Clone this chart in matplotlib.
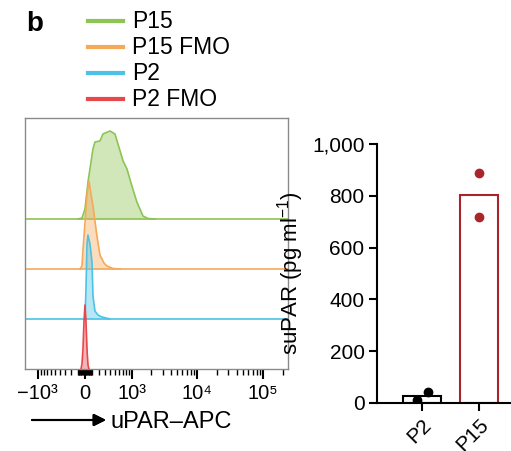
import numpy as np
import matplotlib.pyplot as plt
from matplotlib.lines import Line2D

plt.rcParams["font.family"] = ["Liberation Sans", "DejaVu Sans"]
plt.rcParams["mathtext.fontset"] = "custom"
plt.rcParams["mathtext.rm"] = "Liberation Sans"
plt.rcParams["mathtext.it"] = "Liberation Sans:italic"

# flow histograms (x in APC units, y = height in track units)
green_x = [-100, -42, 0, 42, 70, 113, 142, 219, 268, 395, 500, 623, 704, 821, 991, 1193, 1490, 1783, 2290]
green_y = [0, 0.02, 0.2, 0.74, 1.0, 1.40, 1.54, 1.56, 1.70, 1.76, 1.70, 1.36, 1.16, 1.0, 0.66, 0.34, 0.06, 0.01, 0]

orange_x = [-70, -42, -28, 0, 28, 56, 84, 113, 172, 219, 285, 338, 456, 623]
orange_y = [0, 0.06, 0.38, 0.92, 1.5, 1.76, 1.5, 1.26, 0.66, 0.28, 0.12, 0.06, 0.01, 0]

blue_x = [0, 14, 28, 42, 70, 99, 113, 142, 188, 252, 395]
blue_y = [0, 0.6, 1.5, 1.68, 1.5, 1.14, 0.46, 0.16, 0.08, 0.04, 0]

red_x = [-56, -42, -28, -14, 0, 14, 28, 42, 56]
red_y = [0, 0.1, 0.4, 0.95, 1.28, 0.95, 0.4, 0.08, 0]

traces = ["P15", "P15 FMO", "P2", "P2 FMO"]
colors = ["#8dc454", "#f5a95b", "#4cc3e6", "#e8474c"]
offsets = [3, 2, 1, 0]

major_ticks = [-1000, 0, 1000, 10000, 100000]
major_labels = ["\u221210\u00b3", "0", "10\u00b3", "10\u2074", "10\u2075"]

# suPAR ELISA
groups = ["P2", "P15"]
p2_vals = [12, 42]
p15_vals = [888, 718]

fig = plt.figure(figsize=(5.11, 4.51), dpi=100)

# ---- left: stacked histograms
ax = fig.add_axes([25 / 511, 82 / 451, 263 / 511, 251 / 451])
ax.set_xscale("asinh", linear_width=400)

data = [(green_x, green_y), (orange_x, orange_y), (blue_x, blue_y), (red_x, red_y)]
for (hx, hy), c, off in zip(data, colors, offsets):
    hx = np.array(hx, dtype=float)
    hy = np.array(hy, dtype=float)
    if off > 0:
        ax.axhline(off, color=c, lw=1.2, zorder=1)
    ax.fill_between(hx, off, off + hy, color=c, alpha=0.4, lw=0, zorder=2)
    ax.plot(hx, off + hy, color=c, lw=1.2, zorder=3)

ax.set_xlim(-1600, 240000)
ax.set_ylim(0, 5.02)
ax.set_yticks([])

minor = []
for dec in [10, 100]:
    for k in range(1, 10):
        minor += [-k * dec, k * dec]
for dec in [1000, 10000]:
    for k in range(2, 10):
        minor.append(k * dec)
minor.append(200000)
ax.set_xticks(major_ticks, labels=major_labels)
ax.set_xticks(minor, minor=True)
ax.tick_params(axis="x", which="major", length=7, width=1.5, labelsize=14.5, pad=4, color="black")
ax.tick_params(axis="x", which="minor", length=4, width=1.0, color="black")
for s in ax.spines.values():
    s.set_color("#8a8a8a")
    s.set_linewidth(1.0)

# x-axis label with arrow
fig.add_artist(plt.annotate("", xy=(106 / 511, 1 - 420 / 451), xytext=(32 / 511, 1 - 420 / 451),
                            xycoords="figure fraction",
                            arrowprops=dict(arrowstyle="-|>", color="black", lw=1.5,
                                            mutation_scale=18, shrinkA=0, shrinkB=0)))
fig.text(111 / 511, 1 - 422 / 451, "uPAR\u2013APC", fontsize=17, ha="left", va="center")

# legend
for i, (name, c) in enumerate(zip(traces, colors)):
    y = 1 - (21 + 26 * i) / 451
    fig.add_artist(Line2D([88 / 511, 123 / 511], [y, y], color=c, lw=3,
                          transform=fig.transFigure))
    fig.text(132 / 511, y, name, fontsize=16.5, ha="left", va="center")

fig.text(35 / 511, 1 - 24 / 451, "b", fontsize=20, fontweight="bold", ha="center", va="center")

# ---- right: suPAR bars
ax2 = fig.add_axes([377 / 511, 48 / 451, 138 / 511, 259 / 451])
means = [np.mean(p2_vals), np.mean(p15_vals)]
edge = ["black", "#a8262b"]
ax2.bar([0, 1], means, width=0.66, color="white", edgecolor=edge, linewidth=1.5, zorder=2)
ax2.plot([-0.08, 0.1], p2_vals, "o", color="black", ms=6, zorder=3)
ax2.plot([1, 1], p15_vals, "o", color="#a8262b", ms=6, zorder=3)

ax2.set_xlim(-0.79, 1.63)
ax2.set_ylim(0, 1000)
ax2.set_yticks([0, 200, 400, 600, 800, 1000], labels=["0", "200", "400", "600", "800", "1,000"])
ax2.set_xticks([0, 1], labels=groups)
for lab in ax2.get_xticklabels():
    lab.set_rotation(45)
    lab.set_ha("right")
    lab.set_rotation_mode("anchor")
ax2.tick_params(axis="both", length=6, width=1.5, labelsize=15, pad=3)
ax2.spines["top"].set_visible(False)
ax2.spines["right"].set_visible(False)
ax2.spines["left"].set_linewidth(1.5)
ax2.spines["bottom"].set_linewidth(1.5)
ax2.set_ylabel("suPAR (pg ml$^{-1}$)", fontsize=16, labelpad=4)

fig.savefig("out.png", dpi=100)
